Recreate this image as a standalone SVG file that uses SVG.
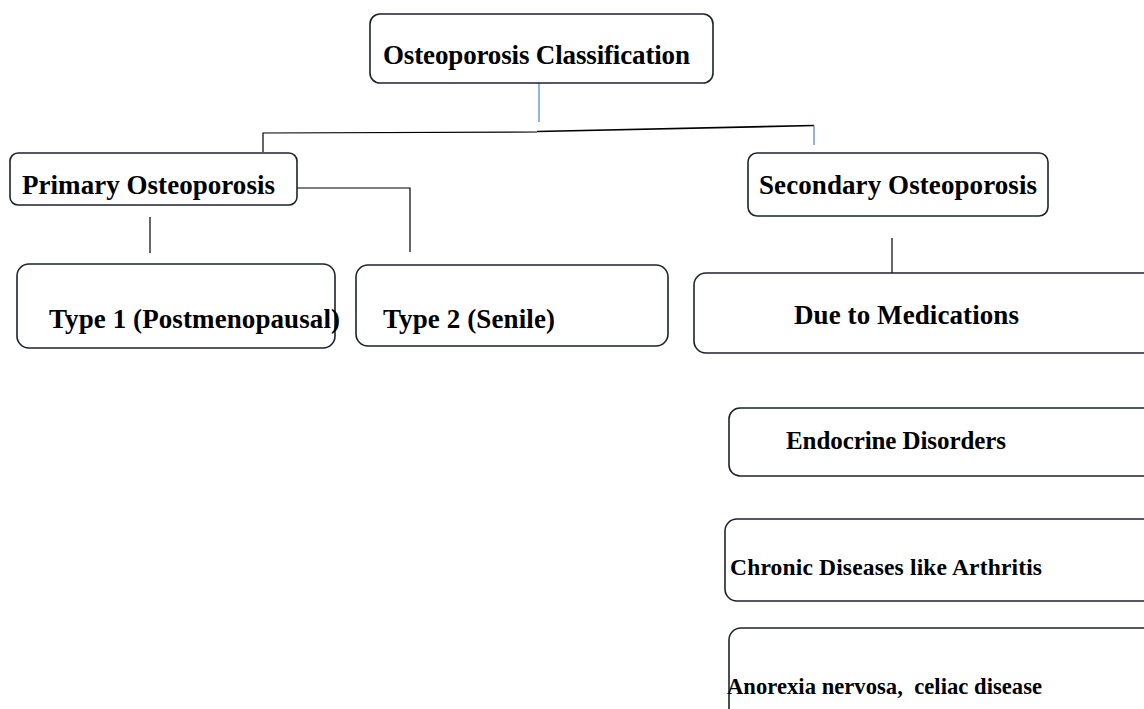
<svg xmlns="http://www.w3.org/2000/svg" width="1144" height="709" viewBox="0 0 1144 709">
<style>
.box{fill:#fff;stroke:#1c2230;stroke-width:1.6}
.t{font-family:"Liberation Serif","Times New Roman",serif;font-weight:bold;font-size:27px;fill:#000}
.k{stroke:#000;stroke-width:1.2;fill:none}
.b{stroke:#4a7fd0;stroke-width:1.2;fill:none}
</style>
<rect width="1144" height="709" fill="#fff"/>
<g id="connectors">
<line class="b" x1="539" y1="83" x2="539" y2="122"/>
<polyline class="k" points="263,152 263,133 537,132"/>
<line x1="537" y1="131.5" x2="814" y2="125.5" stroke="#000" stroke-width="1.6"/>
<line class="b" x1="814" y1="125.5" x2="814" y2="145"/>
<polyline class="k" points="297,188 410,188 410,252"/>
<line class="k" x1="150" y1="217" x2="150" y2="253"/>
<line class="k" x1="892" y1="238" x2="892" y2="282"/>
</g>
<g id="n-root">
<rect class="box" x="370" y="14" width="343" height="69" rx="10"/>
<text class="t" x="383" y="64" textLength="307">Osteoporosis Classification</text>
</g>
<g id="n-primary">
<rect class="box" x="10" y="153" width="287" height="52" rx="8"/>
<text class="t" x="22" y="194" textLength="253">Primary Osteoporosis</text>
</g>
<g id="n-secondary">
<rect class="box" x="748" y="153" width="300" height="63" rx="9"/>
<text class="t" x="759" y="194" textLength="278">Secondary Osteoporosis</text>
</g>
<g id="n-type1">
<rect class="box" x="17" y="264" width="318" height="84" rx="12"/>
<text class="t" x="49" y="328" textLength="291">Type 1 (Postmenopausal)</text>
</g>
<g id="n-type2">
<rect class="box" x="356" y="265" width="312" height="81" rx="12"/>
<text class="t" x="383" y="328" textLength="172">Type 2 (Senile)</text>
</g>
<g id="n-meds">
<rect class="box" x="694" y="273" width="470" height="80" rx="12"/>
<text class="t" x="794" y="324" textLength="225">Due to Medications</text>
</g>
<g id="n-endocrine">
<rect class="box" x="729" y="408" width="435" height="68" rx="11"/>
<text class="t" x="786" y="449" style="font-size:25px" textLength="220">Endocrine Disorders</text>
</g>
<g id="n-chronic">
<rect class="box" x="725" y="519" width="439" height="82" rx="12"/>
<text class="t" x="730" y="575" style="font-size:23.5px" textLength="312">Chronic Diseases like Arthritis</text>
</g>
<g id="n-anorexia">
<rect class="box" x="729" y="628" width="435" height="100" rx="12"/>
<text class="t" x="727" y="694" style="font-size:22.6px" textLength="315" xml:space="preserve">Anorexia nervosa,  celiac disease</text>
</g>
</svg>
